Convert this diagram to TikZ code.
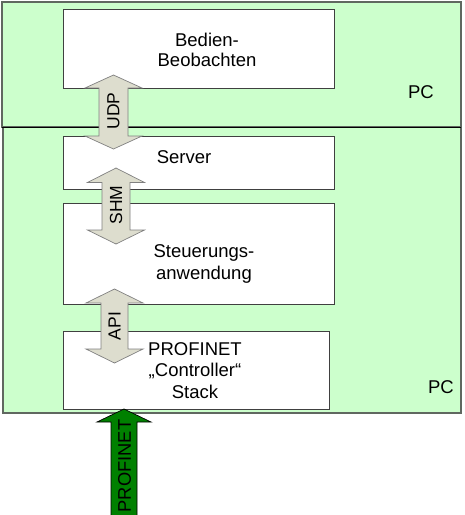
\documentclass[tikz,border=0pt]{standalone}
\usepackage{fontspec}
\setmainfont{Liberation Sans}
\definecolor{pcgreen}{RGB}{204,255,204}
\definecolor{arrgray}{RGB}{221,221,206}
\definecolor{pngreen}{RGB}{0,128,0}
\definecolor{edgegray}{RGB}{96,104,96}
\newcommand{\ifarrow}[8]{% style, cx, tip1, base1, base2, tip2, shafthalf, headhalf
  \draw[#1] (#2,#3) -- (#2+#8,#4) -- (#2+#7,#4) -- (#2+#7,#5) -- (#2+#8,#5) -- (#2,#6)
    -- (#2-#8,#5) -- (#2-#7,#5) -- (#2-#7,#4) -- (#2-#8,#4) -- cycle;}
\begin{document}
\begin{tikzpicture}[x=1pt,y=-1pt,line join=miter,
  pcbox/.style={draw=edgegray, fill=pcgreen, line width=1.2pt},
  whitebox/.style={draw=black!75, fill=white, line width=1pt, inner sep=0pt, anchor=north west},
  iface/.style={draw=gray, fill=arrgray, line width=0.7pt},
  netarrow/.style={draw=black, fill=pngreen, line width=0.7pt},
  lbl/.style={font=\fontsize{18.5}{21.5}\selectfont, align=center, inner sep=0pt},
  rlbl/.style={font=\fontsize{17.5}{20}\selectfont, rotate=90, inner sep=0pt}]
\useasboundingbox (0,0) rectangle (465,515);
\fill[white] (0,0) rectangle (465,515);
% PC areas
\draw[pcbox] (3,127) rectangle (461,413);
\draw[pcbox] (2,2) rectangle (461,127);
\draw[black, line width=1pt] (2,127) -- (461,127);
% software boxes
\node[whitebox, minimum width=271pt, minimum height=79pt] (hmi) at (63,9) {};
\node[whitebox, minimum width=271pt, minimum height=53pt] (server) at (63,136) {};
\node[whitebox, minimum width=271pt, minimum height=101pt] (app) at (63,203) {};
\node[whitebox, minimum width=266pt, minimum height=78pt] (stack) at (63,331) {};
% interface arrows
\ifarrow{iface}{113.5}{75}{88}{136}{149}{14.5}{28.5}
\ifarrow{iface}{116}{168}{182.5}{230}{244}{14}{28.5}
\ifarrow{iface}{114.5}{289}{303}{349}{363}{13.5}{28.5}
% PROFINET arrow
\fill[pngreen] (124,409) -- (151,422) -- (137,422) -- (137,515) -- (111,515) -- (111,422) -- (97,422) -- cycle;
\draw[black, line width=0.7pt] (111,515) -- (111,422) -- (97,422) -- (124,409) -- (151,422) -- (137,422) -- (137,515);
% texts
\node[lbl, font=\fontsize{18.5}{20.5}\selectfont] (hmiT) at (207,50) {Bedien-\\Beobachten};
\node[lbl] (pc1) at (421,92) {PC};
\node[lbl] (serverT) at (184,157) {Server};
\node[lbl] (appT) at (204,264) {Steuerungs-\\anwendung};
\node[lbl] (stackT) at (195,370.5) {PROFINET\\„Controller“\\Stack};
\node[lbl] (pc2) at (441,387) {PC};
\node[rlbl] (udp) at (113.5,111) {UDP};
\node[rlbl] (shm) at (116,205) {SHM};
\node[rlbl] (api) at (114.5,326) {API};
\node[rlbl, font=\fontsize{18.3}{20}\selectfont] (pn) at (124.5,466) {PROFINET};
\end{tikzpicture}
\end{document}
